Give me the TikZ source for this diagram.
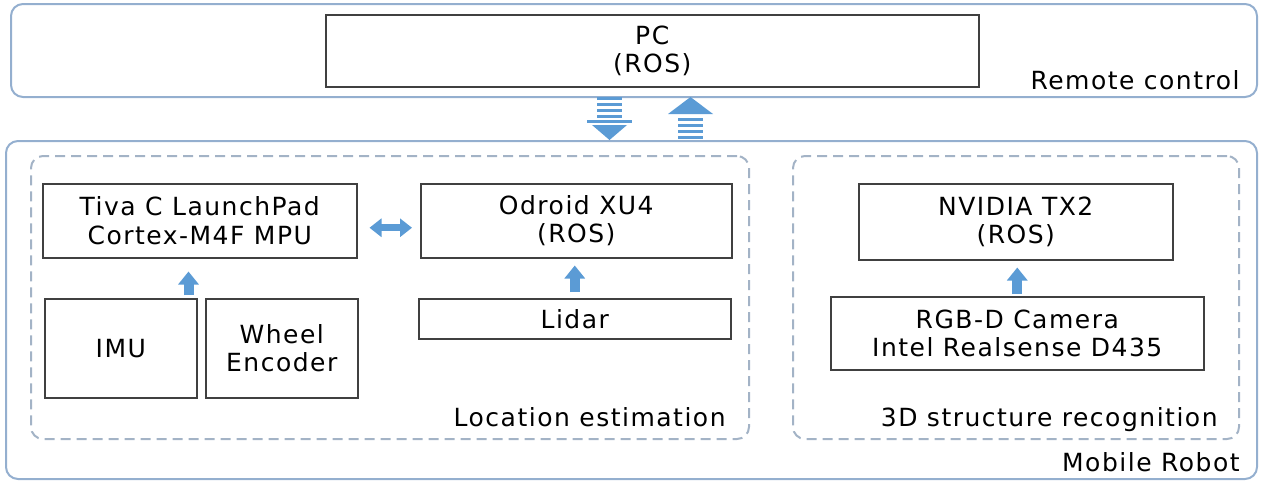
\documentclass[tikz,border=0pt]{standalone}
\usepackage{fontspec}
\setmainfont{DejaVu Sans}[LetterSpace=6]
\usetikzlibrary{arrows.meta, positioning, calc}
\definecolor{grpline}{HTML}{94AFCF}
\definecolor{subline}{HTML}{A3B3C6}
\definecolor{boxline}{HTML}{404040}
\definecolor{arrfill}{HTML}{5B9BD5}
\tikzset{
  grpbox/.style  = {draw=grpline, line width=1pt, rounded corners=6pt,
                     anchor=north west, inner sep=0pt},
  subbox/.style  = {draw=subline, line width=1pt, dash pattern=on 5pt off 3pt,
                     rounded corners=6pt, anchor=north west, inner sep=0pt},
  unitbox/.style = {draw=boxline, line width=0.75pt, anchor=north west,
                     align=center, inner sep=0pt,
                     font=\fontsize{12.5}{14.3}\selectfont},
  grplbl/.style  = {anchor=base east, inner sep=0pt,
                     font=\fontsize{12.5}{14.3}\selectfont},
  blkarr/.style  = {draw=arrfill, line width=5pt,
                     -{Triangle[length=6.5pt, width=10pt]}},
  dblarr/.style  = {draw=arrfill, line width=3.5pt,
                     {Triangle[length=6pt, width=9pt]}-{Triangle[length=6pt, width=9pt]}},
}

\begin{document}
\begin{tikzpicture}[x=0.5pt, y=-0.5pt]
  \useasboundingbox (0,0) rectangle (1261,483);

  % groups
  \node[grpbox, minimum width=623pt, minimum height=46.5pt] (remote) at (10,3) {};
  \node[grpbox, minimum width=625.5pt, minimum height=169pt] (robot) at (5,140) {};
  \node[subbox, minimum width=359pt, minimum height=141.5pt] (loc) at (30,155) {};
  \node[subbox, minimum width=223pt, minimum height=141.5pt] (struct) at (792,155) {};

  \node[grplbl] (remotelbl) at (1240,89) {Remote control};
  \node[grplbl] (robotlbl) at (1240,471) {Mobile Robot};
  \node[grplbl] (loclbl) at (726,426) {Location estimation};
  \node[grplbl] (structlbl) at (1218,426) {3D structure recognition};

  % units
  \node[unitbox, minimum width=326.5pt, minimum height=36pt] (pc) at (325,14) {PC\\(ROS)};
  \node[unitbox, minimum width=157pt, minimum height=37pt] (tiva) at (42,183)
       {Tiva C LaunchPad\\Cortex-M4F MPU};
  \node[unitbox, minimum width=155.5pt, minimum height=37pt] (odroid) at (420,183)
       {Odroid XU4\\(ROS)};
  \node[unitbox, minimum width=76pt, minimum height=49.5pt] (imu) at (44,298) {IMU};
  \node[unitbox, minimum width=76pt, minimum height=49.5pt] (wheel) at (205,298)
       {Wheel\\Encoder};
  \node[unitbox, minimum width=156pt, minimum height=20pt] (lidar) at (418,298) {Lidar};
  \node[unitbox, minimum width=157pt, minimum height=38pt] (nvidia) at (858,183)
       {NVIDIA TX2\\(ROS)};
  \node[unitbox, minimum width=186.5pt, minimum height=36.5pt] (camera) at (830,296)
       {RGB-D Camera\\Intel Realsense D435};

  % links
  \draw[dblarr, shorten <=6pt, shorten >=4pt]
       ([yshift=-3.5pt]tiva.east) -- ([yshift=-3.5pt]odroid.west);
  \coordinate (imuup) at ($(imu.north east)+(-9,-3)$);
  \draw[blkarr, shorten >=6.5pt] (imuup) -- (imuup |- tiva.south);
  \draw[blkarr, shorten <=3pt, shorten >=3.5pt]
       (lidar.north) -- (lidar.north |- odroid.south);
  \draw[blkarr, shorten <=1pt, shorten >=3.5pt]
       (camera.north) -- (camera.north |- nvidia.south);

  % striped arrows PC <-> robot
  \foreach \y in {97,103,109,115}
    \fill[arrfill] (597,\y) rectangle (622,\y+3);
  \fill[arrfill] (587,120) rectangle (632,123);
  \fill[arrfill] (592,125) -- (627,125) -- (609.5,140) -- cycle;

  \fill[arrfill] (668,114) -- (713,114) -- (690.5,97) -- cycle;
  \foreach \y in {118,124,130,136}
    \fill[arrfill] (678,\y) rectangle (703,\y+3);
\end{tikzpicture}
\end{document}
